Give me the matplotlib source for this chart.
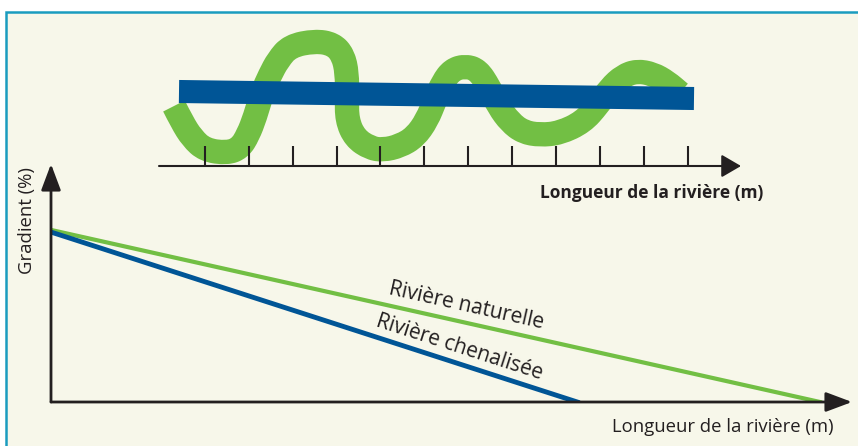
"""
Schéma : rivière naturelle (méandres) vs rivière chenalisée, et gradient.
"""

import numpy as np
import matplotlib
matplotlib.use('Agg')
import matplotlib.pyplot as plt
from matplotlib.patches import Rectangle, PathPatch
from matplotlib.path import Path

plt.rcParams['font.family'] = ['Open Sans', 'DejaVu Sans']

# --- Données -------------------------------------------------------------
# Tracé du méandre (coordonnées du schéma)
meander_x = [174, 182, 192, 205, 227, 240, 248, 255, 262, 270, 278, 290, 315,
             333, 343, 347, 347, 347, 355, 370, 383, 400, 415, 427, 435, 443,
             452, 465, 478, 489, 499, 510, 523, 540, 560, 583, 598, 610, 623,
             637, 653, 667, 680]
meander_y = [106, 122, 138, 150, 153, 148, 135, 117, 93, 75, 60, 46, 41,
             44, 55, 73, 97, 120, 138, 148, 150, 146, 137, 120, 100, 82,
             70, 66, 70, 87, 107, 122, 132, 135, 133, 122, 105, 88, 76,
             71, 74, 82, 93]
# Canal rectiligne
canal_x = [179, 694]
canal_y = [91.5, 98.5]
# Graduations de l'axe du schéma
tick_x = [205, 249, 293, 337, 380, 424, 468, 512, 556, 600, 644, 688]

# Gradient le long de la rivière
natural_x = [0, 96.0]
natural_y = [72.3, 0]
channel_x = [0, 65.7]
channel_y = [71.4, 0]

GREEN = '#72bf44'
BLUE = '#005596'
DARK = '#231f20'
CREAM = '#f7f7ea'
TEAL = '#1a9cbf'

W, H = 858, 446
fig = plt.figure(figsize=(W / 100, H / 100), dpi=100, facecolor='white')

# Cadre
fig.patches.append(Rectangle((6 / W, -0.1), 2, 1 - 12 / H + 0.1,
                             transform=fig.transFigure, facecolor=CREAM,
                             edgecolor=TEAL, linewidth=1.8, zorder=-5))

# --- Schéma du haut --------------------------------------------------------
ax_top = fig.add_axes([150 / W, (H - 200) / H, 600 / W, 180 / H])
ax_top.set_xlim(150, 750)
ax_top.set_ylim(200, 20)
ax_top.axis('off')

# méandre lissé : courbes de Bézier quadratiques passant par les milieux
pts = np.column_stack([meander_x, meander_y]).astype(float)
verts = [pts[0]]
codes = [Path.MOVETO]
for i in range(1, len(pts) - 1):
    verts += [pts[i], (pts[i] + pts[i + 1]) / 2]
    codes += [Path.CURVE3, Path.CURVE3]
verts.append(pts[-1])
codes.append(Path.LINETO)
ax_top.add_patch(PathPatch(Path(verts, codes), facecolor='none',
                           edgecolor=GREEN, linewidth=17.5,
                           capstyle='butt', joinstyle='round', zorder=2))

ax_top.plot(canal_x, canal_y, color=BLUE, linewidth=16.6,
            solid_capstyle='butt', zorder=3)
ax_top.vlines(tick_x, 146, 166, color=DARK, linewidth=1.5, zorder=4)
ax_top.annotate('', xy=(741, 166), xytext=(159, 166),
                arrowprops=dict(arrowstyle='-|>,head_length=1.2,head_width=0.7',
                                color=DARK, lw=1.5, shrinkA=0, shrinkB=0),
                zorder=4)
ax_top.text(652, 193, 'Longueur de la rivière (m)', ha='center', va='center',
            fontsize=12.5, fontweight='bold', color=DARK)

# --- Graphique du gradient -------------------------------------------------
ax = fig.add_axes([51 / W, (H - 402) / H, 801 / W, 238 / H])
ax.set_xlim(0, 100)
ax.set_ylim(0, 100)
ax.set_facecolor('none')
for s in ax.spines.values():
    s.set_visible(False)
ax.set_xticks([])
ax.set_yticks([])

ax.plot(natural_x, natural_y, color=GREEN, linewidth=3, zorder=2)
ax.plot(channel_x, channel_y, color=BLUE, linewidth=3.5, zorder=3)

arrow = dict(arrowstyle='-|>,head_length=1.6,head_width=0.6',
             color=DARK, lw=2, shrinkA=0, shrinkB=0)
ax.annotate('', xy=(1, 0), xytext=(0, 0), xycoords='axes fraction',
            arrowprops=arrow, zorder=4)
ax.annotate('', xy=(0, 1), xytext=(0, 0), xycoords='axes fraction',
            arrowprops=arrow, zorder=4)

fig.text(27 / W, 1 - 221 / H, 'Gradient (%)', rotation=90, ha='center',
         va='center', fontsize=13.3, color=DARK)
fig.text(723 / W, 1 - 427 / H, 'Longueur de la rivière (m)', ha='center',
         va='center', fontsize=13.3, color=DARK)


def line_label(xs, ys, x_at, text, offset):
    # angle à l'écran de la droite, texte posé parallèlement au-dessus
    p0 = ax.transData.transform((xs[0], ys[0]))
    p1 = ax.transData.transform((xs[1], ys[1]))
    ang = np.degrees(np.arctan2(p1[1] - p0[1], p1[0] - p0[0]))
    y_at = np.interp(x_at, xs, ys)
    rad = np.radians(ang)
    nx, ny = -np.sin(rad) * offset, np.cos(rad) * offset
    ax.annotate(text, xy=(x_at, y_at), xytext=(nx, ny),
                textcoords='offset points', rotation=ang,
                rotation_mode='anchor', ha='center', va='center',
                fontsize=15, color=DARK)


line_label(natural_x, natural_y, 51.4, 'Rivière naturelle', 12)
line_label(channel_x, channel_y, 50.4, 'Rivière chenalisée', 11.5)

fig.savefig('out.png', dpi=100, facecolor='white')
